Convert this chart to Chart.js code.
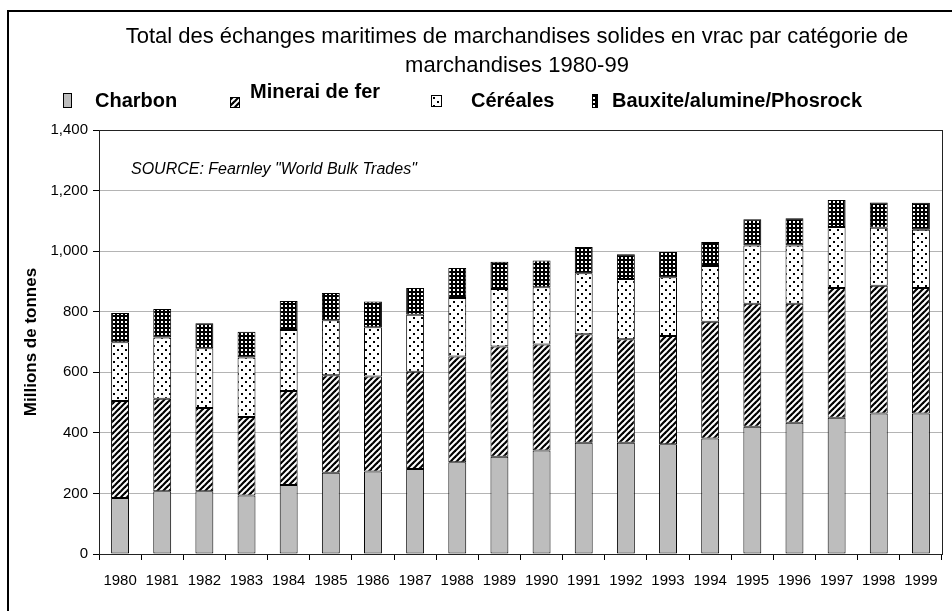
<!DOCTYPE html>
<html><head><meta charset="utf-8">
<script src="https://cdn.jsdelivr.net/npm/chart.js@4/dist/chart.umd.min.js"></script>
<style>html,body{margin:0;padding:0;background:#fff}#wrap{width:952px;height:611px}</style>
</head><body><div id="wrap"><canvas id="c" width="952" height="611"></canvas></div>
<script>
const years = ['1980','1981','1982','1983','1984','1985','1986','1987','1988','1989','1990','1991','1992','1993','1994','1995','1996','1997','1998','1999'];
const seriesNames = ['Charbon','Minerai de fer','Céréales','Bauxite/alumine/Phosrock'];
const charbon  = [185,207,207,193,228,268,272,281,303,321,342,367,367,362,381,420,433,450,464,464];
const minerai  = [320,306,275,259,310,322,314,321,349,364,350,359,342,358,386,406,393,428,422,414];
const cereales = [194,202,197,197,202,182,163,188,193,190,189,201,199,194,184,193,193,202,191,193];
const bauxite  = [97,94,83,85,95,90,85,88,99,90,88,87,82,83,79,86,90,89,84,89];
const chartTitle = ['Total des échanges maritimes de marchandises solides en vrac par catégorie de','marchandises 1980-99'];
const yAxisTitle = 'Millions de tonnes';
const sourceNote = 'SOURCE: Fearnley "World Bulk Trades"';

function makePattern(w, h, draw) {
  const c = document.createElement('canvas');
  c.width = w; c.height = h;
  const g = c.getContext('2d');
  draw(g, w, h);
  return document.getElementById('c').getContext('2d').createPattern(c, 'repeat');
}
const grayFill = '#bdbdbd';
const stripePat = makePattern(6, 6, (g, w, h) => {
  g.fillStyle = '#fff'; g.fillRect(0, 0, w, h);
  g.strokeStyle = '#000'; g.lineWidth = 2.2;
  for (let k = -1; k <= 1; k++) {
    g.beginPath(); g.moveTo(k * w - 1, h + 1); g.lineTo(k * w + w + 1, -1); g.stroke();
  }
});
const dotPat = makePattern(8, 8, (g, w, h) => {
  g.fillStyle = '#fff'; g.fillRect(0, 0, w, h);
  g.fillStyle = '#000'; g.fillRect(1, 1, 2, 2); g.fillRect(5, 5, 2, 2);
});
const brickPat = makePattern(4, 4, (g, w, h) => {
  g.fillStyle = '#000'; g.fillRect(0, 0, w, h);
  g.fillStyle = '#fff'; g.fillRect(1, 1, 2, 2);
});
const fills = [grayFill, stripePat, dotPat, brickPat];

const decor = {
  id: 'decor',
  beforeDraw(chart) {
    const ctx = chart.ctx;
    ctx.save(); ctx.fillStyle = '#fff'; ctx.fillRect(0, 0, chart.width, chart.height); ctx.restore();
  },
  afterDraw(chart) {
    const ctx = chart.ctx, a = chart.chartArea;
    ctx.save();
    ctx.strokeStyle = '#000'; ctx.lineWidth = 2;
    ctx.strokeRect(8, 11, 980, 700);
    ctx.lineWidth = 1; ctx.strokeStyle = '#222';
    ctx.strokeRect(Math.round(a.left) + 0.5, Math.round(a.top) + 0.5, Math.round(a.right - a.left), Math.round(a.bottom - a.top));
    ctx.fillStyle = '#000'; ctx.textAlign = 'center'; ctx.textBaseline = 'middle';
    ctx.font = '22px "Liberation Sans", Arial, sans-serif';
    ctx.fillText(chartTitle[0], 517, 37);
    ctx.fillText(chartTitle[1], 517, 66);
    const items = [
      {box: [63, 93, 8, 14], tx: 95, ty: 101},
      {box: [230, 97, 9, 10], tx: 250, ty: 92},
      {box: [431, 95, 10, 11], tx: 471, ty: 101},
      {box: [592, 94, 5, 13], tx: 612, ty: 101}
    ];
    ctx.textAlign = 'left';
    ctx.font = 'bold 20px "Liberation Sans", Arial, sans-serif';
    items.forEach((it, i) => {
      ctx.fillStyle = fills[i];
      ctx.fillRect(...it.box);
      ctx.strokeStyle = '#000'; ctx.lineWidth = 1;
      ctx.strokeRect(it.box[0] + 0.5, it.box[1] + 0.5, it.box[2], it.box[3]);
      ctx.fillStyle = '#000';
      ctx.fillText(seriesNames[i], it.tx, it.ty);
    });
    ctx.font = 'italic 16px "Liberation Sans", Arial, sans-serif';
    ctx.fillText(sourceNote, 131, 170);
    ctx.restore();
  }
};

const datasets = [charbon, minerai, cereales, bauxite].map((d, i) => ({
  label: seriesNames[i],
  data: d,
  backgroundColor: fills[i],
  borderColor: '#000',
  borderWidth: 1,
  borderSkipped: false,
  barPercentage: 0.85,
  categoryPercentage: 0.5
}));

new Chart(document.getElementById('c'), {
  type: 'bar',
  data: { labels: years, datasets },
  options: {
    responsive: false,
    animation: false,
    devicePixelRatio: 1,
    layout: { padding: { top: 130, right: 10, left: 8, bottom: 0 } },
    plugins: { legend: { display: false }, title: { display: false }, tooltip: { enabled: false } },
    scales: {
      x: {
        stacked: true,
        afterFit: s => { s.height = 57; },
        grid: { drawOnChartArea: false, drawTicks: true, tickLength: 6, tickColor: '#000', offset: true },
        border: { color: '#000', width: 1 },
        ticks: { color: '#000', padding: 12, maxRotation: 0, autoSkip: false, font: { family: '"Liberation Sans", Arial, sans-serif', size: 15 } }
      },
      y: {
        stacked: true, min: 0, max: 1400,
        afterFit: s => { s.width = 91; },
        grid: { color: '#b4b4b4', tickLength: 6, tickColor: '#000' },
        border: { color: '#000', width: 1 },
        ticks: { stepSize: 200, color: '#000', padding: 5, font: { family: '"Liberation Sans", Arial, sans-serif', size: 15 },
          callback: v => v.toLocaleString('en-US') },
        title: { display: true, text: yAxisTitle, color: '#000', padding: { top: 13, bottom: 0 },
          font: { family: '"Liberation Sans", Arial, sans-serif', size: 17, weight: 'bold' } }
      }
    }
  },
  plugins: [decor]
});
</script></body></html>
